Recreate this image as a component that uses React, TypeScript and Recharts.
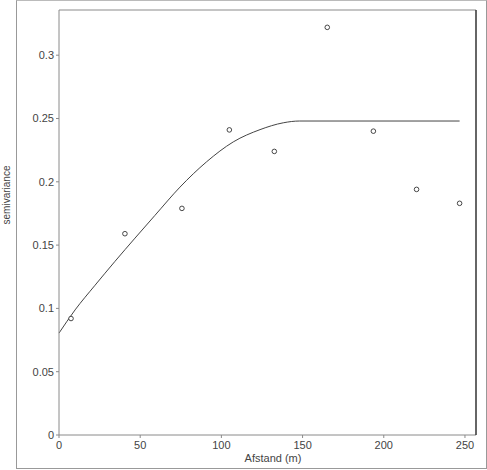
import { ComposedChart, Line, Scatter, XAxis, YAxis, Label } from "recharts";

// empirical semivariance (lag distance in m, value)
const lagDistance = [7.4, 40.6, 75.7, 104.9, 132.6, 165.2, 193.6, 220.2, 246.7];
const semivariance = [0.092, 0.159, 0.179, 0.241, 0.224, 0.322, 0.24, 0.194, 0.183];

// fitted model curve
const modelDistance = [0, 9.9, 22.2, 34.5, 46.8, 59.1, 74.5, 90.9, 107.3, 123.8, 138.1, 148, 246.7];
const modelValue = [0.0805, 0.0988, 0.1183, 0.1372, 0.1555, 0.1735, 0.1958, 0.2158, 0.2315, 0.2412, 0.2466, 0.248, 0.248];

const xTicks = [0, 50, 100, 150, 200, 250];
const yTicks = [0, 0.05, 0.1, 0.15, 0.2, 0.25, 0.3];

const points = lagDistance.map((d, i) => ({ d, v: semivariance[i] }));
const model = modelDistance.map((d, i) => ({ d, v: modelValue[i] }));

const axisColor = "#8a8a8a";
const tickStyle = { fontSize: 11, fill: "#444", fontFamily: "Liberation Sans, Arial, sans-serif" };
const xDomain: [number, number] = [0, 256.8];
const yDomain: [number, number] = [0, 0.3357];

export default function App() {
  return (
    <div style={{ position: "absolute", left: 0, top: 0, width: 487, height: 470, background: "#fff" }}>
      <ComposedChart width={487} height={470} margin={{ top: 0, right: 0, bottom: 0, left: 0 }}>
        <XAxis
          xAxisId="b"
          type="number"
          dataKey="d"
          domain={xDomain}
          ticks={xTicks}
          height={35}
          tickSize={3}
          tickMargin={3}
          stroke={axisColor}
          tick={tickStyle}
        >
          <Label
            content={() => (
              <text x={273} y={462} textAnchor="middle" fontSize={11} fill="#444" fontFamily="Liberation Sans, Arial, sans-serif">
                Afstand (m)
              </text>
            )}
          />
        </XAxis>
        <XAxis
          xAxisId="t"
          orientation="top"
          type="number"
          dataKey="d"
          domain={xDomain}
          ticks={xTicks}
          height={10}
          tickSize={3}
          stroke={axisColor}
          tickFormatter={() => ""}
        />
        <YAxis
          yAxisId="l"
          type="number"
          domain={yDomain}
          ticks={yTicks}
          width={59}
          tickSize={3}
          tickMargin={2}
          stroke={axisColor}
          tick={tickStyle}
        >
          <Label
            content={() => (
              <text
                x={10}
                y={195}
                transform="rotate(-90 10 195)"
                textAnchor="middle"
                fontSize={10}
                fill="#444"
                fontFamily="Liberation Sans, Arial, sans-serif"
              >
                semivariance
              </text>
            )}
          />
        </YAxis>
        <YAxis
          yAxisId="r"
          orientation="right"
          type="number"
          domain={yDomain}
          ticks={yTicks}
          width={11}
          tickSize={3}
          stroke="#333"
          strokeWidth={1.5}
          tickFormatter={() => ""}
        />
        <Line
          xAxisId="b"
          yAxisId="l"
          data={model}
          dataKey="v"
          type="monotone"
          stroke="#444"
          strokeWidth={1}
          dot={false}
          isAnimationActive={false}
        />
        <Scatter
          xAxisId="b"
          yAxisId="l"
          data={points}
          dataKey="v"
          isAnimationActive={false}
          shape={(p: any) => <circle cx={p.cx} cy={p.cy} r={2.3} fill="#fff" stroke="#333" strokeWidth={0.9} />}
        />
      </ComposedChart>
      <div
        style={{
          position: "absolute",
          left: 16,
          top: 0,
          width: 469,
          height: 467,
          border: "1px solid #999",
          borderTopColor: "#bbb",
          pointerEvents: "none",
        }}
      />
    </div>
  );
}
